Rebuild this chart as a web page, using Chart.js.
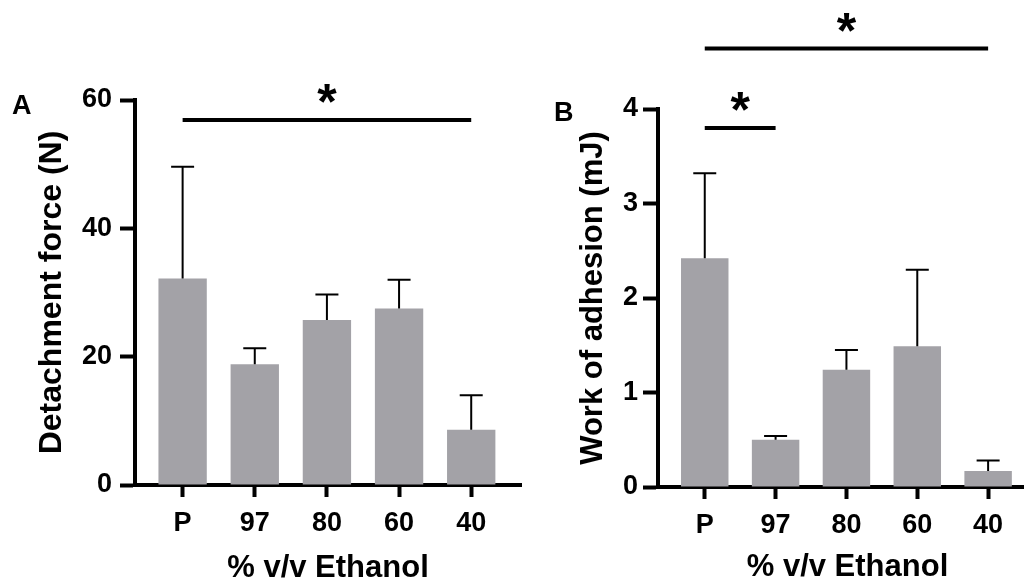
<!DOCTYPE html>
<html>
<head>
<meta charset="utf-8">
<script src="https://cdn.jsdelivr.net/npm/chart.js@4"></script>
<style>
  html, body { margin: 0; padding: 0; background: #fff; overflow: hidden; width: 1024px; height: 583px; }
  #wrapA { position: absolute; left: 0; top: 0; }
  #wrapB { position: absolute; left: 540px; top: 0; }
  .panel { position: absolute; font: bold 27px 'Liberation Sans', Arial, sans-serif; line-height: normal; }
</style>
</head>
<body>
<div id="wrapA"><canvas id="chartA" width="540" height="583"></canvas></div>
<div id="wrapB"><canvas id="chartB" width="520" height="583"></canvas></div>
<div class="panel" style="left:12px; top:90px">A</div>
<div class="panel" style="left:554px; top:97px">B</div>
<script>
// categories and values
const categories = ['P', '97', '80', '60', '40'];

const forceMean = [32.2, 18.8, 25.7, 27.5, 8.6];
const forceSD   = [17.4, 2.5, 4.0, 4.5, 5.4];
const forceTicks = [0, 20, 40, 60];

const workMean = [2.42, 0.50, 1.24, 1.49, 0.17];
const workSD   = [0.90, 0.04, 0.21, 0.81, 0.11];
const workTicks = [0, 1, 2, 3, 4];

// significance bars: from category, to category, height in y units
const sigA = [{ from: 0, to: 4, level: 56.9 }];
const sigB = [{ from: 0, to: 4, level: 4.64 }, { from: 0, to: 1, level: 3.80 }];

const FONT = "'Liberation Sans', Arial, sans-serif";
const barColor = '#a3a2a7';

// draws upward error bars + significance lines with stars
const errorBarPlugin = {
  id: 'errorBars',
  afterDatasetsDraw(chart, args, opts) {
    const ctx = chart.ctx;
    const x = chart.scales.x, y = chart.scales.y;
    ctx.save();
    ctx.strokeStyle = '#000';
    ctx.fillStyle = '#000';
    ctx.lineWidth = 2;
    opts.means.forEach((m, i) => {
      const px = x.getPixelForValue(i);
      const base = y.getPixelForValue(m);
      const top = y.getPixelForValue(m + opts.sds[i]);
      ctx.beginPath();
      ctx.moveTo(px, base);
      ctx.lineTo(px, top);
      ctx.moveTo(px - 11.5, top);
      ctx.lineTo(px + 11.5, top);
      ctx.stroke();
    });
    opts.sig.forEach(s => {
      const x1 = x.getPixelForValue(s.from);
      const x2 = x.getPixelForValue(s.to);
      const yy = y.getPixelForValue(s.level);
      ctx.lineWidth = 4;
      ctx.beginPath();
      ctx.moveTo(x1, yy);
      ctx.lineTo(x2, yy);
      ctx.stroke();
      ctx.font = 'bold 50px ' + FONT;
      ctx.textAlign = 'center';
      ctx.textBaseline = 'alphabetic';
      ctx.fillText('*', (x1 + x2) / 2, yy - 1);
    });
    ctx.restore();
  }
};

function makeChart(id, means, sds, yTicks, sig, yTitle, cfg) {
  return new Chart(document.getElementById(id).getContext('2d'), {
    type: 'bar',
    data: {
      datasets: [{
        data: means.map((v, i) => ({ x: i, y: v })),
        backgroundColor: barColor,
        borderWidth: 0,
        barPercentage: 0.67,
        categoryPercentage: 1
      }]
    },
    options: {
      responsive: false,
      animation: false,
      layout: { padding: cfg.padding },
      plugins: {
        legend: { display: false },
        tooltip: { enabled: false },
        errorBars: { means: means, sds: sds, sig: sig }
      },
      scales: {
        x: {
          type: 'linear',
          min: -0.66,
          max: 4.69,
          offset: false,
          z: 1,
          afterBuildTicks: s => { s.ticks = categories.map((c, i) => ({ value: i })); },
          afterFit: s => { s.height = cfg.xHeight; },
          grid: { offset: false, drawOnChartArea: false, tickLength: 12, tickWidth: 4, tickColor: '#000' },
          border: { display: true, width: 4, color: '#000' },
          ticks: {
            callback: v => categories[v],
            color: '#000',
            padding: 10,
            maxRotation: 0,
            font: { family: FONT, size: 27, weight: 'bold' }
          },
          title: {
            display: true,
            text: '% v/v Ethanol',
            color: '#000',
            padding: { top: 0, bottom: cfg.xTitlePad },
            font: { family: FONT, size: 31, weight: 'bold', lineHeight: 1 }
          }
        },
        y: {
          min: yTicks[0],
          max: yTicks[yTicks.length - 1],
          z: 1,
          afterBuildTicks: s => { s.ticks = yTicks.map(v => ({ value: v })); },
          afterFit: s => { s.width = cfg.yWidth; },
          grid: { drawOnChartArea: false, tickLength: 15, tickWidth: 4, tickColor: '#000' },
          border: { display: true, width: 4, color: '#000' },
          ticks: {
            color: '#000',
            padding: cfg.yTickPad,
            font: { family: FONT, size: 27, weight: 'bold' }
          },
          title: {
            display: true,
            text: yTitle,
            color: '#000',
            padding: { top: cfg.yTitlePad, bottom: 0 },
            font: { family: FONT, size: cfg.yTitleSize, weight: 'bold', lineHeight: 1 }
          }
        }
      }
    },
    plugins: [errorBarPlugin]
  });
}

const chartA = makeChart('chartA', forceMean, forceSD, forceTicks, sigA, 'Detachment force (N)', {
  padding: { left: 0, top: 100, right: 19, bottom: 0 },
  xHeight: 98, yWidth: 135, yTickPad: 8, yTitlePad: 36, yTitleSize: 32, xTitlePad: -1
});

const chartB = makeChart('chartB', workMean, workSD, workTicks, sigB, 'Work of adhesion (mJ)', {
  padding: { left: 0, top: 109, right: 23, bottom: 0 },
  xHeight: 96, yWidth: 118, yTickPad: 5, yTitlePad: 38, yTitleSize: 31, xTitlePad: 0
});
</script>
</body>
</html>
